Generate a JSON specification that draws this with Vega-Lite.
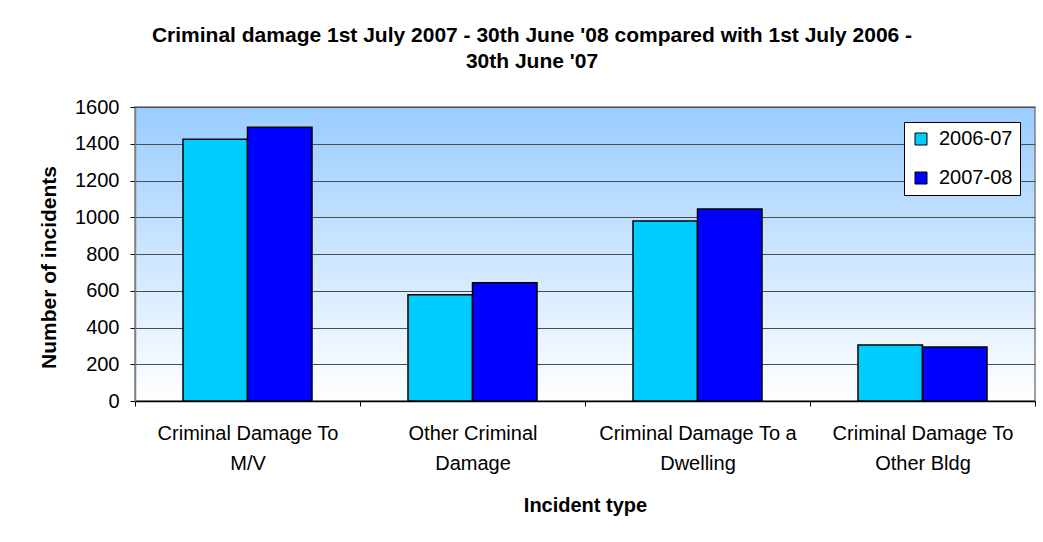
{
  "$schema": "https://vega.github.io/schema/vega-lite/v6.json",
  "width": 900,
  "height": 294,
  "autosize": {"type": "none"},
  "padding": {"left": 135, "top": 107, "right": 8, "bottom": 141},
  "background": "white",
  "title": {
    "text": ["Criminal damage 1st July 2007 - 30th June '08 compared with 1st July 2006 -", "30th June '07"],
    "fontSize": 21,
    "fontWeight": "bold",
    "font": "Liberation Sans",
    "color": "#000000",
    "anchor": "middle",
    "dx": -53,
    "offset": 25,
    "lineHeight": 26
  },
  "view": {
    "stroke": "#808080",
    "strokeWidth": 1.5,
    "fill": {
      "gradient": "linear",
      "x1": 0, "y1": 0, "x2": 0, "y2": 1,
      "stops": [
        {"offset": 0, "color": "#99CCFF"},
        {"offset": 1, "color": "#FFFFFF"}
      ]
    }
  },
  "data": {
    "values": [
      {"type": "Criminal Damage To M/V", "year": "2006-07", "incidents": 1425},
      {"type": "Criminal Damage To M/V", "year": "2007-08", "incidents": 1490},
      {"type": "Other Criminal Damage", "year": "2006-07", "incidents": 578},
      {"type": "Other Criminal Damage", "year": "2007-08", "incidents": 643},
      {"type": "Criminal Damage To a Dwelling", "year": "2006-07", "incidents": 980},
      {"type": "Criminal Damage To a Dwelling", "year": "2007-08", "incidents": 1045},
      {"type": "Criminal Damage To Other Bldg", "year": "2006-07", "incidents": 305},
      {"type": "Criminal Damage To Other Bldg", "year": "2007-08", "incidents": 294}
    ]
  },
  "mark": {"type": "bar", "stroke": "#000000", "strokeWidth": 1.5},
  "encoding": {
    "x": {
      "field": "type",
      "type": "nominal",
      "sort": null,
      "scale": {"paddingInner": 0, "paddingOuter": 0},
      "axis": {
        "title": "Incident type",
        "titleFontSize": 20,
        "titleFontWeight": "bold",
        "titlePadding": 22,
        "labelAngle": 0,
        "labelFontSize": 20,
        "labelLineHeight": 30,
        "labelPadding": 17,
        "labelColor": "#000000",
        "labelExpr": "datum.value == 'Criminal Damage To M/V' ? ['Criminal Damage To', 'M/V'] : datum.value == 'Other Criminal Damage' ? ['Other Criminal', 'Damage'] : datum.value == 'Criminal Damage To a Dwelling' ? ['Criminal Damage To a', 'Dwelling'] : datum.value == 'Criminal Damage To Other Bldg' ? ['Criminal Damage To', 'Other Bldg'] : ''",
        "labelLimit": 300,
        "tickBand": "extent",
        "tickSize": 5,
        "tickColor": "#000000",
        "domainColor": "#000000",
        "domainWidth": 1.5,
        "grid": false
      }
    },
    "xOffset": {"field": "year", "type": "nominal", "scale": {"paddingInner": 0, "paddingOuter": 0.744}},
    "y": {
      "field": "incidents",
      "type": "quantitative",
      "scale": {"domain": [0, 1600], "nice": false},
      "axis": {
        "title": "Number of incidents",
        "titleFontSize": 21,
        "titleFontWeight": "bold",
        "titlePadding": 15,
        "titleY": 160,
        "format": "d",
        "values": [0, 200, 400, 600, 800, 1000, 1200, 1400, 1600],
        "labelFontSize": 20,
        "labelPadding": 11,
        "labelColor": "#000000",
        "tickSize": 5,
        "tickColor": "#000000",
        "domainColor": "#808080",
        "domainWidth": 1.5,
        "gridColor": "#4d4d4d",
        "gridWidth": 1
      }
    },
    "color": {
      "field": "year",
      "type": "nominal",
      "scale": {"domain": ["2006-07", "2007-08"], "range": ["#00CCFF", "#0000FF"]},
      "legend": {
        "title": null,
        "orient": "top-right",
        "offset": 15,
        "fillColor": "#FFFFFF",
        "strokeColor": "#000000",
        "padding": 7,
        "labelFontSize": 20,
        "labelColor": "#000000",
        "labelOffset": 8,
        "symbolType": "square",
        "symbolSize": 144,
        "symbolStrokeColor": "#000000",
        "symbolStrokeWidth": 1,
        "symbolOpacity": 1,
        "rowPadding": 19
      }
    }
  },
  "config": {
    "font": "Liberation Sans",
    "axis": {"titleColor": "#000000"}
  }
}
